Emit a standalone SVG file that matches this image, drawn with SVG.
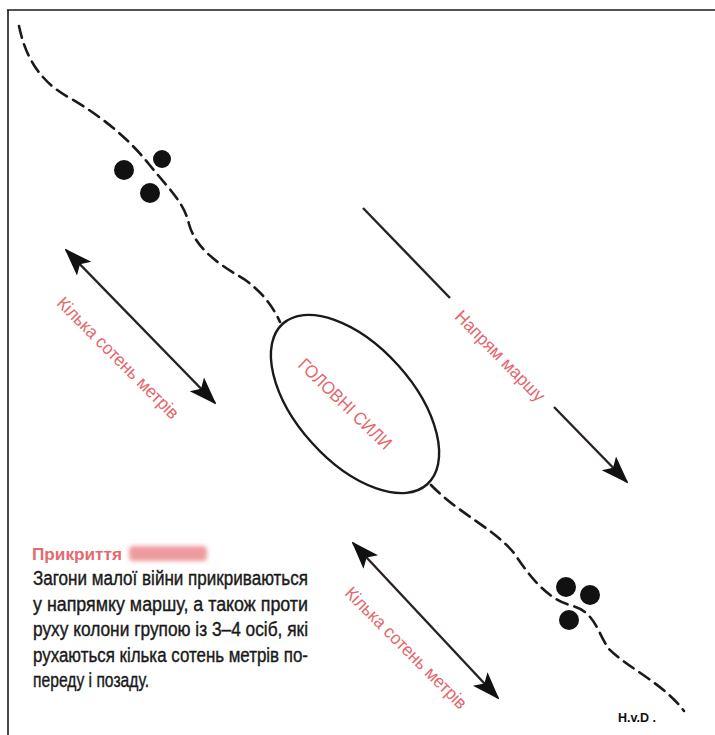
<svg xmlns="http://www.w3.org/2000/svg" width="715" height="735" viewBox="0 0 715 735">
<style>
.frame{fill:none;stroke:#1a1a1a;stroke-width:1.6}
.dash{fill:none;stroke:#1a1a1a;stroke-width:2.6;stroke-dasharray:12 7;stroke-linecap:round}
.arr{fill:none;stroke:#2a2222;stroke-width:2.4}
.lbl{font-family:"Liberation Sans Narrow","Liberation Sans",sans-serif;font-size:18px;fill:#e4676c}
.body{font-family:"Liberation Sans Narrow","Liberation Sans",sans-serif;font-size:20px;fill:#1a1a1a;stroke:#1a1a1a;stroke-width:0.4}
.title{font-family:"Liberation Sans Narrow","Liberation Sans",sans-serif;font-size:17px;font-weight:bold;fill:#e56a70}
.dot{fill:#111}
</style>
<defs>
<marker id="ah" markerWidth="28" markerHeight="22" refX="26" refY="11" orient="auto-start-reverse" markerUnits="userSpaceOnUse">
<path d="M0,1 L28,11 L0,21 L6,11 Z" fill="#111"/>
</marker>
<filter id="blur" x="-20%" y="-50%" width="140%" height="200%"><feGaussianBlur stdDeviation="2.2"/></filter>
</defs>
<rect width="715" height="735" fill="#fff"/>
<g id="frame">
<path class="frame" d="M7,10 H715 M8,10 V735"/>
</g>
<g id="connectors">
<path class="dash" d="M19,26 C25,55 38,80 68,97 C100,115 128,138 148,163 C168,188 184,202 189,224 C195,246 214,262 244,279 C262,292 272,305 280,322"/>
<path class="dash" d="M431,485 C458,513 493,528 514,553 C534,583 550,600 573,606 C595,612 598,634 609,649 C628,668 664,684 684,711"/>
<line class="arr" x1="66" y1="250" x2="215" y2="403" marker-start="url(#ah)" marker-end="url(#ah)"/>
<line class="arr" x1="353" y1="543" x2="498" y2="698" marker-start="url(#ah)" marker-end="url(#ah)"/>
<line class="arr" x1="363" y1="208" x2="450" y2="298"/>
<line class="arr" x1="554" y1="407" x2="627" y2="482" marker-end="url(#ah)"/>
</g>
<g id="group-top">
<circle class="dot" cx="124" cy="170" r="10"/>
<circle class="dot" cx="162" cy="159" r="9"/>
<circle class="dot" cx="150" cy="193" r="10"/>
</g>
<g id="group-bottom">
<circle class="dot" cx="566" cy="587" r="10"/>
<circle class="dot" cx="590" cy="595" r="10"/>
<circle class="dot" cx="569" cy="620" r="10"/>
</g>
<g id="main-forces">
<ellipse cx="355" cy="404" rx="108" ry="58" transform="rotate(48 355 404)" fill="none" stroke="#1a1a1a" stroke-width="2.4"/>
<text class="lbl" x="345" y="410" text-anchor="middle" textLength="122" lengthAdjust="spacingAndGlyphs" transform="rotate(44 345 404)">ГОЛОВНІ СИЛИ</text>
</g>
<g id="labels">
<text class="lbl" x="118" y="364" text-anchor="middle" textLength="164" lengthAdjust="spacingAndGlyphs" transform="rotate(45 118 358)">Кілька сотень метрів</text>
<text class="lbl" x="406" y="654" text-anchor="middle" textLength="164" lengthAdjust="spacingAndGlyphs" transform="rotate(45 406 648)">Кілька сотень метрів</text>
<text class="lbl" x="500" y="362" text-anchor="middle" textLength="120" lengthAdjust="spacingAndGlyphs" transform="rotate(45.5 500 356)">Напрям маршу</text>
</g>
<g id="caption">
<text class="title" x="32" y="560" textLength="90" lengthAdjust="spacingAndGlyphs">Прикриття</text>
<rect x="129" y="546" width="78" height="15" rx="4" fill="#e87a80" opacity="0.75" filter="url(#blur)"/>
<text class="body" x="33" y="585" textLength="275" lengthAdjust="spacingAndGlyphs">Загони малої війни прикриваються</text>
<text class="body" x="33" y="611" textLength="275" lengthAdjust="spacingAndGlyphs">у напрямку маршу, а також проти</text>
<text class="body" x="33" y="636" textLength="275" lengthAdjust="spacingAndGlyphs">руху колони групою із 3–4 осіб, які</text>
<text class="body" x="33" y="662" textLength="275" lengthAdjust="spacingAndGlyphs">рухаються кілька сотень метрів по-</text>
<text class="body" x="33" y="687" textLength="116" lengthAdjust="spacingAndGlyphs">переду і позаду.</text>
</g>
<g id="signature">
<text x="618" y="722" font-family="Liberation Sans Narrow, Liberation Sans, sans-serif" font-size="12" font-weight="bold" fill="#111" textLength="38" lengthAdjust="spacingAndGlyphs">H.v.D .</text>
</g>
</svg>
